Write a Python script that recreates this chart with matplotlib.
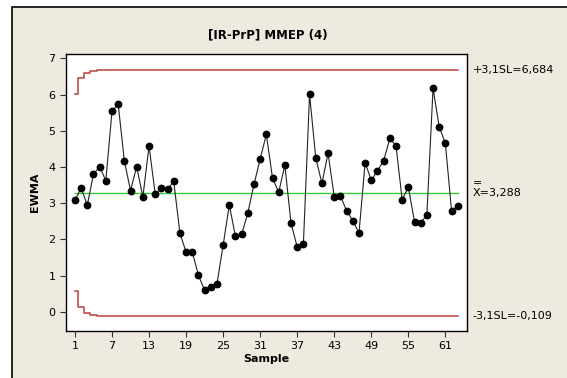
import numpy as np
import matplotlib
matplotlib.use('Agg')
import matplotlib.pyplot as plt
from matplotlib.patches import Rectangle

# EWMA values, samples 1..63
ewma = [3.08, 3.42, 2.95, 3.80, 4.01, 3.62, 5.54, 5.74, 4.17, 3.35,
        4.01, 3.17, 4.58, 3.25, 3.42, 3.39, 3.60, 2.17, 1.65, 1.65,
        1.01, 0.59, 0.68, 0.77, 1.84, 2.95, 2.08, 2.14, 2.73, 3.52,
        4.22, 4.90, 3.69, 3.30, 4.05, 2.44, 1.79, 1.87, 6.01, 4.25,
        3.55, 4.38, 3.17, 3.20, 2.79, 2.52, 2.17, 4.12, 3.63, 3.90,
        4.17, 4.79, 4.58, 3.10, 3.44, 2.49, 2.45, 2.68, 6.17, 5.11,
        4.65, 2.78, 2.93]
center = 3.288
ucl_final = 6.684
lcl_final = -0.109
ucl_start = [6.01, 6.45, 6.60, 6.66]
lcl_start = [0.57, 0.13, -0.02, -0.08]
xticks = [1, 7, 13, 19, 25, 31, 37, 43, 49, 55, 61]

n = len(ewma)
samples = np.arange(1, n + 1)
ucl = np.array(ucl_start + [ucl_final] * (n - len(ucl_start)))
lcl = np.array(lcl_start + [lcl_final] * (n - len(lcl_start)))

bg = '#eeeae0'
fig = plt.figure(figsize=(5.67, 3.78), dpi=100, facecolor='white')
fig.patches.append(Rectangle((12/567, -0.05), 1.1, 1.05 - 7/378,
                             transform=fig.transFigure, facecolor=bg,
                             edgecolor='black', linewidth=1.2, zorder=-10))

ax = fig.add_axes([66/567, 1 - 331/378, (467-66)/567, (331-54)/378])
ax.set_zorder(1)
ax.set_facecolor('white')

# limits drawn as steps centered on each sample
xs = np.concatenate([[1], samples[:-1] + 0.5, [n]])
ax.step(xs, np.append(ucl, ucl[-1]), where='post', color='#c0504d', lw=1.2)
ax.step(xs, np.append(lcl, lcl[-1]), where='post', color='#c0504d', lw=1.2)
ax.plot([1, n], [center, center], color='#33cc33', lw=1.0)

ax.plot(samples, ewma, color='#222222', lw=0.8, marker='o', ms=4.6,
        mfc='black', mec='black', zorder=5)

ax.set_xlim(-0.45, 64.5)
ax.set_ylim(-0.53, 7.12)
ax.set_xticks(xticks)
ax.set_yticks(range(0, 8))
ax.tick_params(labelsize=8, length=4, width=0.8, color='#333333')
for s in ax.spines.values():
    s.set_linewidth(1.0)

ax.set_xlabel('Sample', fontsize=8, fontweight='bold', labelpad=2)
ax.set_ylabel('EWMA', fontsize=8, fontweight='bold', labelpad=6)
fig.text(268/567, 1 - 35/378, '[IR-PrP] MMEP (4)', ha='center', va='center',
         fontsize=8.5, fontweight='bold')

tx = ax.get_xlim()[1] + 0.9
ax.text(tx, ucl_final, '+3,1SL=6,684', fontsize=8, va='center', clip_on=False)
ax.text(tx, center, 'X=3,288', fontsize=8, va='center', clip_on=False)
ax.text(tx, center + 0.28, '=', fontsize=8, va='center', clip_on=False)
ax.text(tx, lcl_final, '-3,1SL=-0,109', fontsize=8, va='center', clip_on=False)

fig.savefig('out.png', dpi=100, facecolor=fig.get_facecolor())
